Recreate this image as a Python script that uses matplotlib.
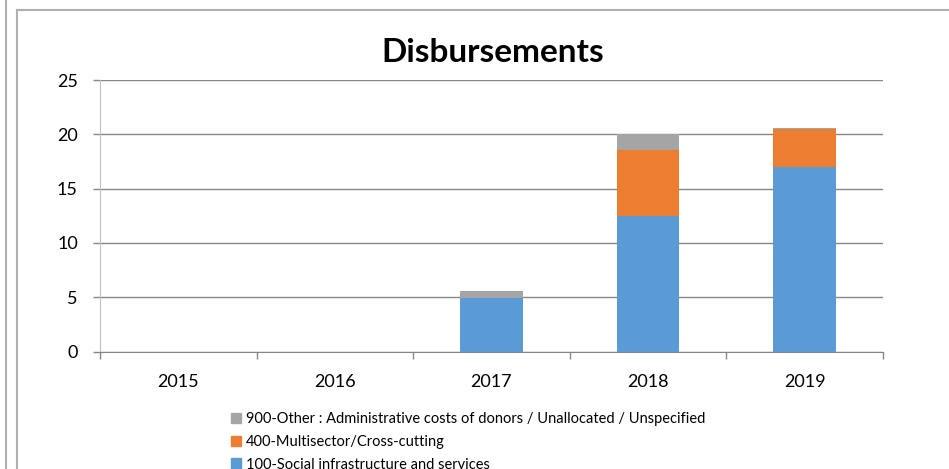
import matplotlib.pyplot as plt
from matplotlib.lines import Line2D
from matplotlib.patches import Patch
import numpy as np

years = ['2015', '2016', '2017', '2018', '2019']
social = [0, 0, 4.95, 12.45, 16.97]
multisector = [0, 0, 0, 6.1, 3.5]
other = [0, 0, 0.65, 1.45, 0.1]

labels = ['100-Social infrastructure and services',
          '400-Multisector/Cross-cutting',
          '900-Other : Administrative costs of donors / Unallocated / Unspecified']
colors = ['#5b9bd5', '#ed7d31', '#a5a5a5']

plt.rcParams['font.family'] = ['Lato', 'DejaVu Sans']

W, H = 949, 469
fig = plt.figure(figsize=(W / 100, H / 100), dpi=100)
ax = fig.add_axes([100 / W, 1 - 351.5 / H, 783 / W, 271.5 / H])

x = np.arange(len(years))
bottom = np.zeros(len(years))
for vals, c in zip([social, multisector, other], colors):
    ax.bar(x, vals, width=0.4, bottom=bottom, color=c, zorder=3)
    bottom += np.array(vals)

ax.set_xlim(-0.5, len(years) - 0.5)
ax.set_ylim(0, 25)
ax.set_yticks(range(0, 26, 5))
ax.yaxis.grid(True, color='#868686', linewidth=1, zorder=0)

ax.set_xticks(x)
ax.set_xticklabels(years)
ax.set_xticks(np.arange(-0.5, len(years), 1), minor=True)
ax.tick_params(axis='x', which='major', length=0, pad=16, labelsize=13)
ax.tick_params(axis='x', which='minor', length=5, color='#868686', width=1)
ax.tick_params(axis='y', length=5, color='#868686', width=1, labelsize=13, pad=11)

for side in ['top', 'right']:
    ax.spines[side].set_visible(False)
ax.spines['left'].set_color('#bfbfbf')
ax.spines['bottom'].set_color('#868686')

fig.text(493 / W, 1 - 53 / H, 'Disbursements', ha='center', va='center',
         fontsize=24, fontweight='bold')

handles = [Patch(color=c) for c in colors][::-1]
fig.legend(handles, labels[::-1], loc='upper left',
           bbox_to_anchor=(231 / W, 1 - 412 / H), frameon=False,
           handlelength=0.7, handleheight=0.7, handletextpad=0.3,
           labelspacing=0.6, fontsize=10.5, borderaxespad=0, borderpad=0)

# outer frame lines
fig.add_artist(Line2D([5.5 / W, 5.5 / W], [0, 1], color='#b0b0b0', lw=1.5))
fig.add_artist(Line2D([16.5 / W, 16.5 / W], [0, 1 - 10.5 / H], color='#b0b0b0', lw=1.5))
fig.add_artist(Line2D([16.5 / W, 1], [1 - 10.5 / H, 1 - 10.5 / H], color='#b0b0b0', lw=1.5))

fig.savefig('out.png', dpi=100)
